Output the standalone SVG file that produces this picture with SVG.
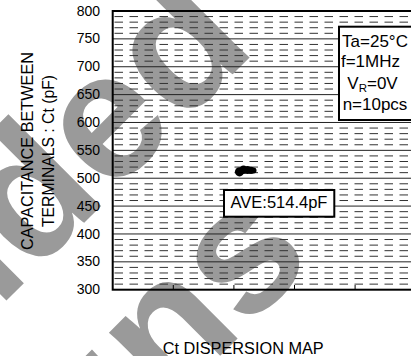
<svg xmlns="http://www.w3.org/2000/svg" width="411" height="356" viewBox="0 0 411 356">
<style>
.wm{font-family:"Liberation Sans",Arial,sans-serif;font-weight:bold;font-size:180px;fill:#9a9a9a}
.t{font-family:"Liberation Sans",Arial,sans-serif;fill:#000}
.tick{font-size:14px;text-anchor:end}
.lg{font-size:17px;text-anchor:middle}
.maj{stroke:#222;stroke-width:1;fill:none}
.min{stroke:#333;stroke-width:1;stroke-dasharray:8.5 6.5;fill:none}
.box{fill:#fff;stroke:#000;stroke-width:2}
</style>
<rect width="411" height="356" fill="#fff"/>
<g id="watermark">
<text class="wm" transform="translate(-46,353) rotate(-45)">nded</text>
<text class="wm" transform="translate(90,486) rotate(-45)">gns</text>
</g>
<g id="grid">
<path class="maj" d="M113 38.87H411M113 66.74H411M113 94.61H411M113 122.48H411M113 150.35H411M113 178.22H411M113 206.09H411M113 233.96H411M113 261.83H411"/>
<path class="min" d="M114.5 16.57H411M114.5 22.15H411M114.5 27.72H411M114.5 33.30H411M114.5 44.44H411M114.5 50.02H411M114.5 55.59H411M114.5 61.17H411M114.5 72.31H411M114.5 77.89H411M114.5 83.46H411M114.5 89.04H411M114.5 100.18H411M114.5 105.76H411M114.5 111.33H411M114.5 116.91H411M114.5 128.05H411M114.5 133.63H411M114.5 139.20H411M114.5 144.78H411M114.5 155.92H411M114.5 161.50H411M114.5 167.07H411M114.5 172.65H411M114.5 183.79H411M114.5 189.37H411M114.5 194.94H411M114.5 200.52H411M114.5 211.66H411M114.5 217.24H411M114.5 222.81H411M114.5 228.39H411M114.5 239.53H411M114.5 245.11H411M114.5 250.68H411M114.5 256.26H411M114.5 267.40H411M114.5 272.98H411M114.5 278.55H411M114.5 284.13H411"/>
<path d="M173.3 289.7V285M233.9 289.7V285M294.5 289.7V285M355.1 289.7V285" stroke="#000" stroke-width="1"/>
<rect x="112.7" y="11" width="320" height="278.7" fill="none" stroke="#000" stroke-width="2"/>
</g>
<g id="y-axis" class="t">
<text class="tick" x="100" y="15.5">800</text>
<text class="tick" x="100" y="43.4">750</text>
<text class="tick" x="100" y="71.2">700</text>
<text class="tick" x="100" y="99.1">650</text>
<text class="tick" x="100" y="127">600</text>
<text class="tick" x="100" y="154.9">550</text>
<text class="tick" x="100" y="182.7">500</text>
<text class="tick" x="100" y="210.6">450</text>
<text class="tick" x="100" y="238.5">400</text>
<text class="tick" x="100" y="266.3">350</text>
<text class="tick" x="100" y="294.2">300</text>
<text transform="translate(33,151) rotate(-90)" text-anchor="middle" font-size="16.5" textLength="198" lengthAdjust="spacingAndGlyphs">CAPACITANCE BETWEEN</text>
<text transform="translate(54,151) rotate(-90)" text-anchor="middle" font-size="16.5" textLength="152" lengthAdjust="spacingAndGlyphs">TERMINALS : Ct (pF)</text>
</g>
<g id="data">
<circle cx="239.5" cy="171.8" r="4.6"/>
<circle cx="243.5" cy="169.8" r="4.2"/>
<circle cx="247.5" cy="170" r="4"/>
<circle cx="251" cy="170.3" r="3.6"/>
<circle cx="253.5" cy="170.5" r="3"/>
</g>
<g id="legend" class="t">
<rect class="box" x="339" y="26.7" width="80" height="93.3"/>
<text class="lg" x="375" y="46.7">Ta=25°C</text>
<text class="lg" x="370.5" y="66.7">f=1MHz</text>
<text class="lg" x="372.5" y="89.3">V<tspan font-size="11.5" dy="3">R</tspan><tspan dy="-3">=0V</tspan></text>
<text class="lg" x="375" y="110">n=10pcs</text>
</g>
<g id="ave" class="t">
<rect class="box" x="224" y="190" width="110.3" height="26.7"/>
<text x="279" y="208.3" font-size="16.5" text-anchor="middle">AVE:514.4pF</text>
</g>
<g id="title" class="t">
<text x="243.2" y="354" font-size="16.3" text-anchor="middle">Ct DISPERSION MAP</text>
</g>
</svg>
